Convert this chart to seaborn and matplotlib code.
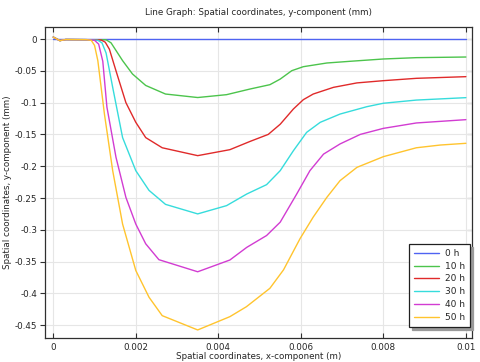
import numpy as np
import pandas as pd
import matplotlib
matplotlib.use("Agg")
import matplotlib.pyplot as plt
import seaborn as sns

labels = ["0 h", "10 h", "20 h", "30 h", "40 h", "50 h"]
colors = ["#4f63f2", "#4cc44c", "#e02a2a", "#36dcdc", "#d23cd2", "#ffc42e"]

x_0h = [0.0, 0.01]
y_0h = [0.0, 0.0]

x_10h = [0, 0.00016, 0.0003, 0.0008, 0.00128, 0.0014, 0.00152, 0.00168, 0.00192, 0.00224, 0.00272,
         0.0035, 0.0042, 0.00477, 0.00525, 0.0055, 0.00578, 0.00606, 0.00663, 0.0072, 0.008, 0.0088, 0.01]
y_10h = [0.003, -0.0025, -0.0008, -0.001, -0.0012, -0.006, -0.018, -0.034, -0.055, -0.073, -0.0865,
         -0.092, -0.0875, -0.0786, -0.0718, -0.063, -0.0498, -0.0435, -0.0377, -0.035, -0.0314, -0.0293, -0.0283]

x_20h = [0, 0.00016, 0.0003, 0.0008, 0.00116, 0.00126, 0.00136, 0.00152, 0.00176, 0.002, 0.00224, 0.00264,
         0.0035, 0.00428, 0.00477, 0.00521, 0.0055, 0.00582, 0.00606, 0.0063, 0.00679, 0.00736,
         0.008, 0.0088, 0.01]
y_20h = [0.003, -0.0025, -0.0008, -0.001, -0.0015, -0.005, -0.016, -0.05, -0.1, -0.131, -0.155, -0.171,
         -0.1834, -0.174, -0.161, -0.150, -0.134, -0.110, -0.0954, -0.0865, -0.076, -0.069,
         -0.0655, -0.0618, -0.0592]

x_30h = [0, 0.00016, 0.0003, 0.0008, 0.00108, 0.00118, 0.00128, 0.00144, 0.00168, 0.002, 0.00232, 0.00272,
         0.0035, 0.0042, 0.00469, 0.00517, 0.0055, 0.00582, 0.00614, 0.00647, 0.00695, 0.0076,
         0.008, 0.0088, 0.01]
y_30h = [0.003, -0.0025, -0.0008, -0.001, -0.002, -0.006, -0.022, -0.076, -0.155, -0.207, -0.238, -0.26,
         -0.275, -0.262, -0.2437, -0.229, -0.207, -0.1756, -0.1468, -0.131, -0.118, -0.1064,
         -0.101, -0.096, -0.0922]

x_40h = [0, 0.00016, 0.0003, 0.0008, 0.001, 0.0011, 0.0012, 0.0013, 0.00152, 0.00176, 0.002, 0.00224,
         0.00256, 0.0035, 0.00428, 0.00469, 0.00517, 0.0055, 0.0059, 0.00622, 0.00655, 0.00695,
         0.00744, 0.008, 0.0088, 0.01]
y_40h = [0.003, -0.0025, -0.0008, -0.001, -0.002, -0.008, -0.035, -0.107, -0.186, -0.249, -0.291, -0.322,
         -0.347, -0.366, -0.3475, -0.3276, -0.309, -0.288, -0.2437, -0.207, -0.181, -0.165,
         -0.150, -0.1405, -0.132, -0.1268]

x_50h = [0, 0.00016, 0.0003, 0.0008, 0.00092, 0.001, 0.00108, 0.00124, 0.00144, 0.00168, 0.002, 0.00232,
         0.00264, 0.0035, 0.00428, 0.00468, 0.00525, 0.00558, 0.00598, 0.0063, 0.00663, 0.00695,
         0.00736, 0.008, 0.0088, 0.00938, 0.01]
y_50h = [0.003, -0.0025, -0.0008, -0.001, -0.002, -0.01, -0.034, -0.118, -0.207, -0.291, -0.364, -0.406,
         -0.435, -0.4575, -0.4366, -0.421, -0.392, -0.363, -0.314, -0.280, -0.249, -0.2227,
         -0.2018, -0.185, -0.171, -0.1667, -0.164]

xs = [x_0h, x_10h, x_20h, x_30h, x_40h, x_50h]
ys = [y_0h, y_10h, y_20h, y_30h, y_40h, y_50h]

frames = []
for lab, xv, yv in zip(labels, xs, ys):
    frames.append(pd.DataFrame({"x": xv, "y": yv, "series": lab}))
df = pd.concat(frames, ignore_index=True)

sns.set_theme(style="white")
plt.rcParams["font.family"] = ["DejaVu Sans"]

fig = plt.figure(figsize=(4.81, 3.62), dpi=100)
ax = fig.add_axes([0.0936, 0.0671, 0.8887, 0.8583])

sns.lineplot(data=df, x="x", y="y", hue="series", hue_order=labels,
             palette=dict(zip(labels, colors)), sort=False, estimator=None,
             units="series", linewidth=1.0, ax=ax, legend=True)

ax.set_xlim(-0.0002, 0.01016)
ax.set_ylim(-0.4697, 0.0189)
ax.set_xticks([0, 0.002, 0.004, 0.006, 0.008, 0.01])
ax.set_xticklabels(["0", "0.002", "0.004", "0.006", "0.008", "0.01"])
yt = [0, -0.05, -0.1, -0.15, -0.2, -0.25, -0.3, -0.35, -0.4, -0.45]
ax.set_yticks(yt)
ax.set_yticklabels(["0", "-0.05", "-0.1", "-0.15", "-0.2", "-0.25", "-0.3", "-0.35", "-0.4", "-0.45"])
ax.grid(True, color="#e6e6e6", linewidth=0.8)
ax.set_axisbelow(True)

for s in ax.spines.values():
    s.set_color("#303030")
    s.set_linewidth(0.9)

ax.tick_params(axis="x", direction="in", length=3.5, top=True, bottom=True, labelsize=6.3,
               pad=4, color="#303030", width=0.8)
ax.tick_params(axis="y", direction="out", length=3.5, left=True, right=False, labelsize=6.3, pad=2,
               color="#303030", width=0.8)
ax2 = ax.secondary_yaxis("right")
ax2.set_yticks(yt)
ax2.tick_params(direction="in", length=3.5, labelright=False, color="#303030", width=0.8)
ax2.spines["right"].set_visible(False)

ax.set_title("Line Graph: Spatial coordinates, y-component (mm)", fontsize=6.3, pad=9)
ax.set_xlabel("Spatial coordinates, x-component (m)", fontsize=6.3, labelpad=0)
ax.set_ylabel("Spatial coordinates, y-component (mm)", fontsize=6.3, labelpad=2)

handles, lbls = ax.get_legend_handles_labels()
leg = ax.legend(handles, lbls, loc="lower right", fontsize=6.5, frameon=True, fancybox=False,
                shadow={"color": "#9a9a9a", "alpha": 1.0}, edgecolor="#202020",
                handlelength=2.7, handletextpad=0.7,
                borderpad=0.55, labelspacing=0.42, borderaxespad=0.0,
                bbox_to_anchor=(0.994, 0.035))
leg.get_frame().set_linewidth(0.9)

fig.savefig("out.png", dpi=100)
